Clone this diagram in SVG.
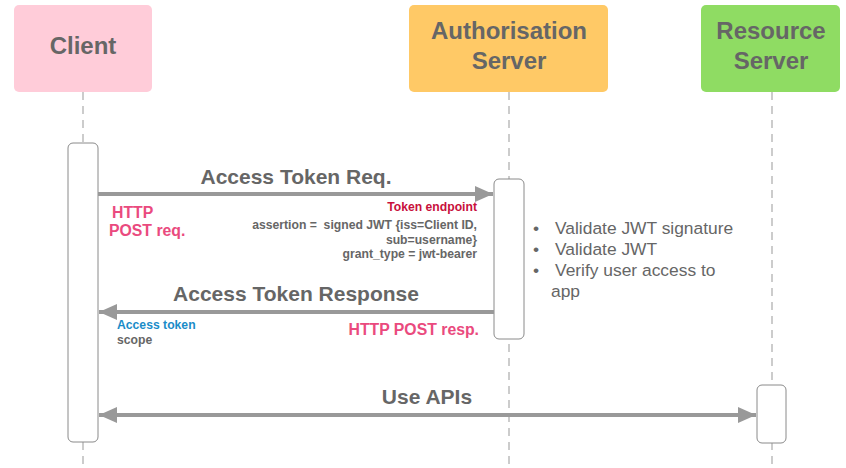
<svg xmlns="http://www.w3.org/2000/svg" width="846" height="468" viewBox="0 0 846 468">
  <style>
    .head { font-family: "Liberation Sans", Arial, sans-serif; font-weight: bold; font-size: 24px; fill: #666666; text-anchor: middle; }
    .life { stroke: #999999; stroke-width: 1; stroke-dasharray: 8 6; fill: none; }
    .act { fill: #ffffff; stroke: #8a8a8a; stroke-width: 1; }
    .msg { stroke: #999999; stroke-width: 4; fill: none; }
    .lbl { font-family: "Liberation Sans", Arial, sans-serif; font-weight: bold; font-size: 21px; fill: #666666; text-anchor: middle; }
    .small { font-family: "Liberation Sans", Arial, sans-serif; font-weight: bold; font-size: 12.2px; fill: #666666; white-space: pre; }
    .pink { font-family: "Liberation Sans", Arial, sans-serif; font-weight: bold; font-size: 15.8px; fill: #ea4a7e; }
    .note { font-family: "Liberation Sans", Arial, sans-serif; font-size: 17.4px; fill: #666666; }
  </style>
  <defs>
    <marker id="head" viewBox="0 0 10 10" refX="10" refY="5" markerWidth="4.5" markerHeight="4" markerUnits="strokeWidth" orient="auto-start-reverse" preserveAspectRatio="none">
      <path d="M0,0 L10,5 L0,10 z" fill="#999999"/>
    </marker>
  </defs>
  <rect width="846" height="468" fill="#ffffff"/>

  <!-- lifelines -->
  <g id="lifelines">
    <line class="life" x1="83" y1="92" x2="83" y2="468"/>
    <line class="life" x1="509" y1="92" x2="509" y2="468"/>
    <line class="life" x1="772" y1="92" x2="772" y2="468"/>
  </g>

  <!-- participants -->
  <g id="client">
    <rect x="14" y="5" width="138" height="87" rx="5" fill="#ffccd9"/>
    <text class="head" x="83" y="54">Client</text>
    <rect class="act" x="68" y="143" width="30" height="299" rx="5"/>
  </g>
  <g id="auth-server">
    <rect x="409" y="5" width="199" height="87" rx="5" fill="#ffc966"/>
    <text class="head" x="509" y="39">Authorisation</text>
    <text class="head" x="509" y="69">Server</text>
    <rect class="act" x="494" y="179" width="30" height="160" rx="5"/>
  </g>
  <g id="resource-server">
    <rect x="701" y="5" width="139" height="87" rx="5" fill="#8fdc63"/>
    <text class="head" x="771" y="39">Resource</text>
    <text class="head" x="771" y="69">Server</text>
    <rect class="act" x="757" y="385" width="29" height="58" rx="5"/>
  </g>

  <!-- messages -->
  <g id="connectors">
    <line class="msg" x1="98" y1="194" x2="493" y2="194" marker-end="url(#head)"/>
    <line class="msg" x1="494" y1="312" x2="99" y2="312" marker-end="url(#head)"/>
    <line class="msg" x1="99" y1="415" x2="756" y2="415" marker-start="url(#head)" marker-end="url(#head)"/>
  </g>

  <!-- message labels -->
  <g id="labels">
    <text class="lbl" x="296" y="184">Access Token Req.</text>
    <text class="pink" x="112" y="218">HTTP</text>
    <text class="pink" x="109" y="236">POST req.</text>
    <text class="small" x="477" y="211" text-anchor="end" style="fill:#c8103c">Token endpoint</text>
    <text class="small" x="477" y="229" text-anchor="end">assertion =  signed JWT {iss=Client ID,</text>
    <text class="small" x="477" y="244" text-anchor="end">sub=username}</text>
    <text class="small" x="477" y="258" text-anchor="end">grant_type = jwt-bearer</text>

    <text class="lbl" x="296" y="301">Access Token Response</text>
    <text class="small" x="117" y="329" style="fill:#1a8cc8">Access token</text>
    <text class="small" x="117" y="344">scope</text>
    <text class="pink" x="479" y="335" text-anchor="end">HTTP POST resp.</text>

    <text class="lbl" x="427" y="404">Use APIs</text>
  </g>

  <!-- validation notes -->
  <g id="notes">
    <text class="note" x="533" y="234">•</text>
    <text class="note" x="555" y="234">Validate JWT signature</text>
    <text class="note" x="533" y="255">•</text>
    <text class="note" x="555" y="255">Validate JWT</text>
    <text class="note" x="533" y="276">•</text>
    <text class="note" x="555" y="276">Verify user access to</text>
    <text class="note" x="551" y="297">app</text>
  </g>
</svg>
